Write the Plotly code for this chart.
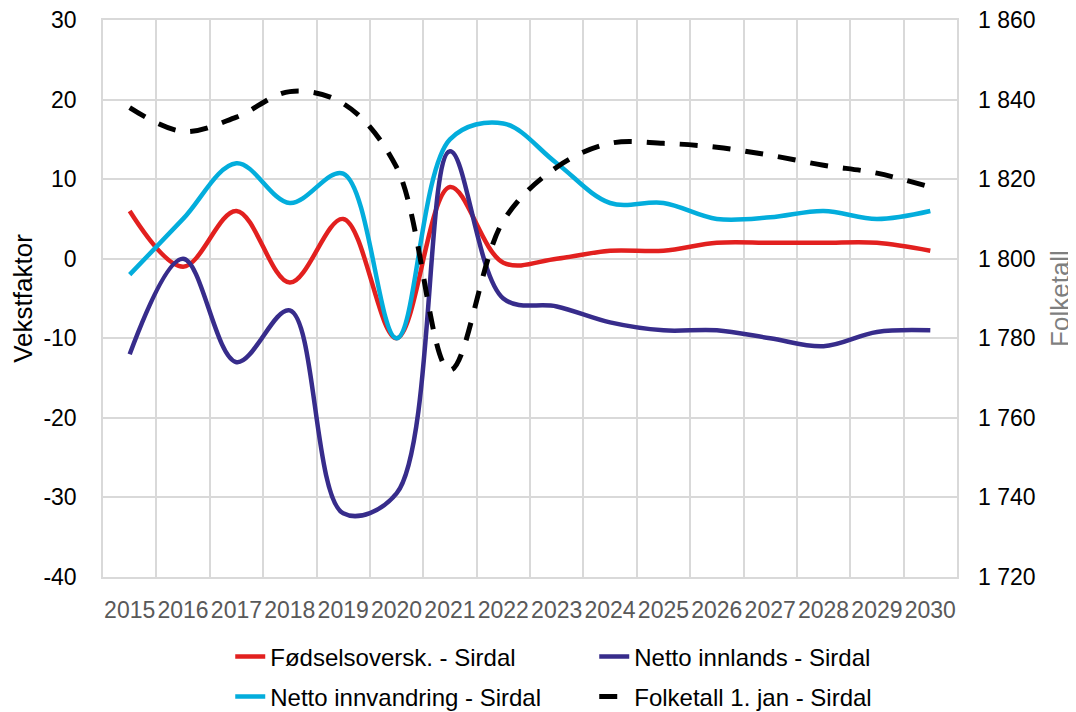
import plotly.graph_objects as go

years = [str(y) for y in range(2015, 2031)]

fodsel = [6, -1, 6, -3, 5, -10, 9, -0.5, 0, 1, 1, 2, 2, 2, 2, 1]
innlands = [-12, 0, -13, -6.5, -32, -29.5, 13.5, -5, -6, -8, -9, -9, -10, -11, -9.2, -9]
innvandring = [-2, 5, 12, 7, 10.7, -10, 15, 17, 12, 7, 7, 5, 5.2, 6, 5, 6]
folketall = [1838, 1832, 1835.6, 1842, 1839, 1823, 1772, 1809.5, 1823, 1829, 1829, 1828, 1826, 1823.5, 1821.5, 1818]

left_ticks = [-40, -30, -20, -10, 0, 10, 20, 30]
left_labels = ["-40", "-30", "-20", "-10", "0", "10", "20", "30"]

names = ["Fødselsoversk. - Sirdal", "Netto innlands - Sirdal",
         "Netto innvandring - Sirdal", "Folketall 1. jan - Sirdal"]
colors = ["#E2201F", "#372C8B", "#03ADDC", "#000000"]
legend_ids = ["legend", "legend", "legend2", "legend2"]

FONT = "Liberation Sans, Arial, sans-serif"

fig = go.Figure()
for vals, name, col, lg in zip([fodsel, innlands, innvandring], names[:3], colors[:3], legend_ids[:3]):
    fig.add_trace(go.Scatter(x=years, y=vals, name=name, mode="lines", legend=lg,
                             line=dict(color=col, width=4.5, shape="spline", smoothing=1)))
fig.add_trace(go.Scatter(x=years, y=folketall, name=names[3], mode="lines", yaxis="y2",
                         legend=legend_ids[3],
                         line=dict(color=colors[3], width=5, dash="18px,15px",
                                   shape="spline", smoothing=1)))

grid = "#D9D9D9"
leg_common = dict(orientation="h", xanchor="left", yanchor="middle",
                  font=dict(size=24, color="#000000"), entrywidth=319,
                  entrywidthmode="pixels", itemwidth=30, bgcolor="rgba(0,0,0,0)")
fig.update_layout(
    width=1068, height=704,
    margin=dict(l=95, r=119, t=12, b=135, autoexpand=False),
    paper_bgcolor="white", plot_bgcolor="white",
    font=dict(family=FONT, size=23, color="#000000"),
    separators=", ",
    showlegend=True,
    legend=dict(x=0.149, y=-0.1436, **leg_common),
    legend2=dict(x=0.149, y=-0.2154, **leg_common),
    xaxis=dict(type="category", range=[-0.5, 15.5], tickson="boundaries",
               showgrid=True, gridcolor=grid, gridwidth=1.5, tickangle=0,
               showline=True, mirror=True, linecolor=grid, linewidth=1.5,
               zeroline=False, ticks="", automargin=False,
               tickfont=dict(size=23, color="#595959"), ticklabelstandoff=12),
    yaxis=dict(range=[-40, 30], tickvals=left_ticks, ticktext=left_labels,
               showgrid=True, gridcolor=grid, gridwidth=1.5, zeroline=False,
               showline=True, mirror=True, linecolor=grid, linewidth=1.5,
               ticks="", tickfont=dict(size=23, color="#000000"),
               ticklabelstandoff=20, automargin=False, ticklabeloverflow="allow",
               title=dict(text="Vekstfaktor", font=dict(size=26, color="#000000"), standoff=10)),
    yaxis2=dict(range=[1720, 1860], dtick=20, tick0=1720, overlaying="y", side="right",
                showgrid=False, zeroline=False, showline=False, ticks="",
                tickformat=",d", tickfont=dict(size=23, color="#000000"),
                ticklabelstandoff=20, automargin=False, ticklabeloverflow="allow",
                title=dict(text="Folketall", font=dict(size=26, color="#7F7F7F"), standoff=16)),
)

fig.write_html("out.html")
